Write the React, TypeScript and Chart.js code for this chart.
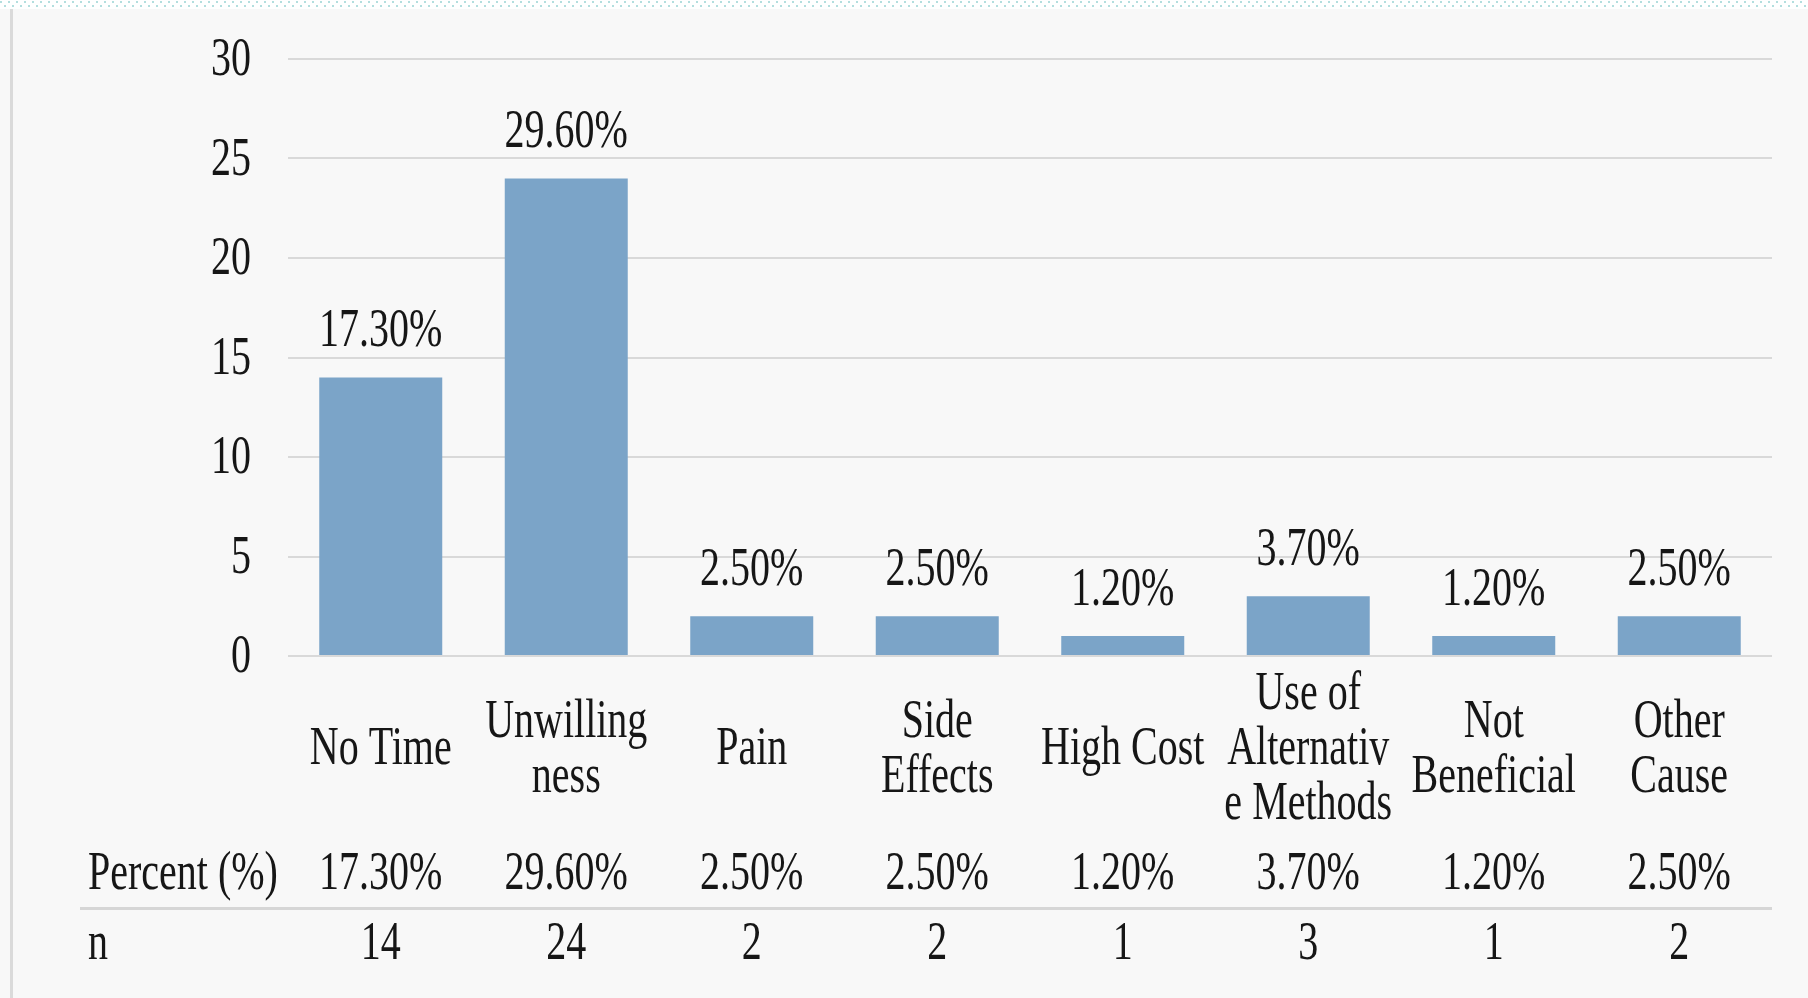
import React, { useEffect, useRef } from "react";
import { Chart, registerables } from "chart.js";

Chart.register(...registerables);

const categories: string[][] = [
  ["No Time"],
  ["Unwilling", "ness"],
  ["Pain"],
  ["Side", "Effects"],
  ["High Cost"],
  ["Use of", "Alternativ", "e Methods"],
  ["Not", "Beneficial"],
  ["Other", "Cause"],
];
const nValues: number[] = [14, 24, 2, 2, 1, 3, 1, 2];
const percentLabels: string[] = ["17.30%", "29.60%", "2.50%", "2.50%", "1.20%", "3.70%", "1.20%", "2.50%"];
const yTicks: number[] = [0, 5, 10, 15, 20, 25, 30];
const rowLabels: string[] = ["Percent (%)", "n"];

const W = 1808;
const H = 998;
const FONT = '40px "Liberation Serif", "Times New Roman", serif';
const SY = 1.35;
const TEXT = "#161616";

function drawText(ctx: CanvasRenderingContext2D, text: string, x: number, y: number, align: CanvasTextAlign) {
  ctx.save();
  ctx.translate(x, y);
  ctx.scale(1, SY);
  ctx.font = FONT;
  ctx.fillStyle = TEXT;
  ctx.textAlign = align;
  ctx.textBaseline = "middle";
  ctx.fillText(text, 0, 0);
  ctx.restore();
}

const framePlugin = {
  id: "frame",
  beforeDraw(chart: any) {
    const ctx: CanvasRenderingContext2D = chart.ctx;
    ctx.save();
    ctx.fillStyle = "#ffffff";
    ctx.fillRect(0, 0, W, 9);
    ctx.fillStyle = "#f8f8f8";
    ctx.fillRect(0, 9, W, H - 9);
    ctx.fillStyle = "#b3dede";
    for (let x = 0; x < W; x += 8) {
      ctx.fillRect(x, 1, 2, 2);
      ctx.fillRect(x + 4, 5, 2, 2);
    }
    ctx.fillStyle = "#dadada";
    ctx.fillRect(10, 9, 3, H - 9);
    ctx.restore();
  },
  afterDraw(chart: any) {
    const ctx: CanvasRenderingContext2D = chart.ctx;
    const xs = chart.scales.x;
    const ys = chart.scales.y;
    const bottom = ys.getPixelForValue(0);
    yTicks.forEach((v) => {
      drawText(ctx, String(v), 251, ys.getPixelForValue(v) + 2, "right");
    });
    const lineH = 55.3;
    categories.forEach((lines, i) => {
      const cx = xs.getPixelForValue(i);
      drawText(ctx, percentLabels[i], cx, ys.getPixelForValue(nValues[i]) - 45.5, "center");
      const startY = bottom + 94 - ((lines.length - 1) * lineH) / 2;
      lines.forEach((ln, k) => drawText(ctx, ln, cx, startY + k * lineH, "center"));
      drawText(ctx, percentLabels[i], cx, bottom + 219, "center");
      drawText(ctx, String(nValues[i]), cx, bottom + 289, "center");
    });
    drawText(ctx, rowLabels[0], 88, bottom + 219, "left");
    drawText(ctx, rowLabels[1], 88, bottom + 289, "left");
    ctx.save();
    ctx.fillStyle = "#d6d6d6";
    ctx.fillRect(80, bottom + 251, chart.chartArea.right - 80, 3);
    ctx.restore();
  },
};

export default function App() {
  const ref = useRef<HTMLCanvasElement | null>(null);
  useEffect(() => {
    if (!ref.current) return;
    const chart = new Chart(ref.current, {
      type: "bar",
      data: {
        labels: categories.map((c) => c.join(" ")),
        datasets: [
          {
            data: nValues,
            backgroundColor: "#7ba4c8",
            borderWidth: 0,
            barPercentage: 0.663,
            categoryPercentage: 1,
          },
        ],
      },
      options: {
        animation: false,
        responsive: false,
        devicePixelRatio: 1,
        layout: { padding: { left: 288, right: 36, top: 59, bottom: 342 } },
        plugins: { legend: { display: false }, tooltip: { enabled: false } },
        scales: {
          x: {
            grid: { display: false, drawTicks: false },
            border: { display: false },
            ticks: { display: false },
          },
          y: {
            min: 0,
            max: 30,
            grid: { color: "#d9d9d9", lineWidth: 2, drawTicks: false },
            border: { display: false },
            ticks: { display: false, stepSize: 5 },
          },
        },
      },
      plugins: [framePlugin],
    });
    return () => chart.destroy();
  }, []);
  return (
    <div style={{ position: "absolute", left: 0, top: 0, width: W, height: H }}>
      <canvas ref={ref} width={W} height={H} style={{ width: W, height: H, display: "block" }} />
    </div>
  );
}
